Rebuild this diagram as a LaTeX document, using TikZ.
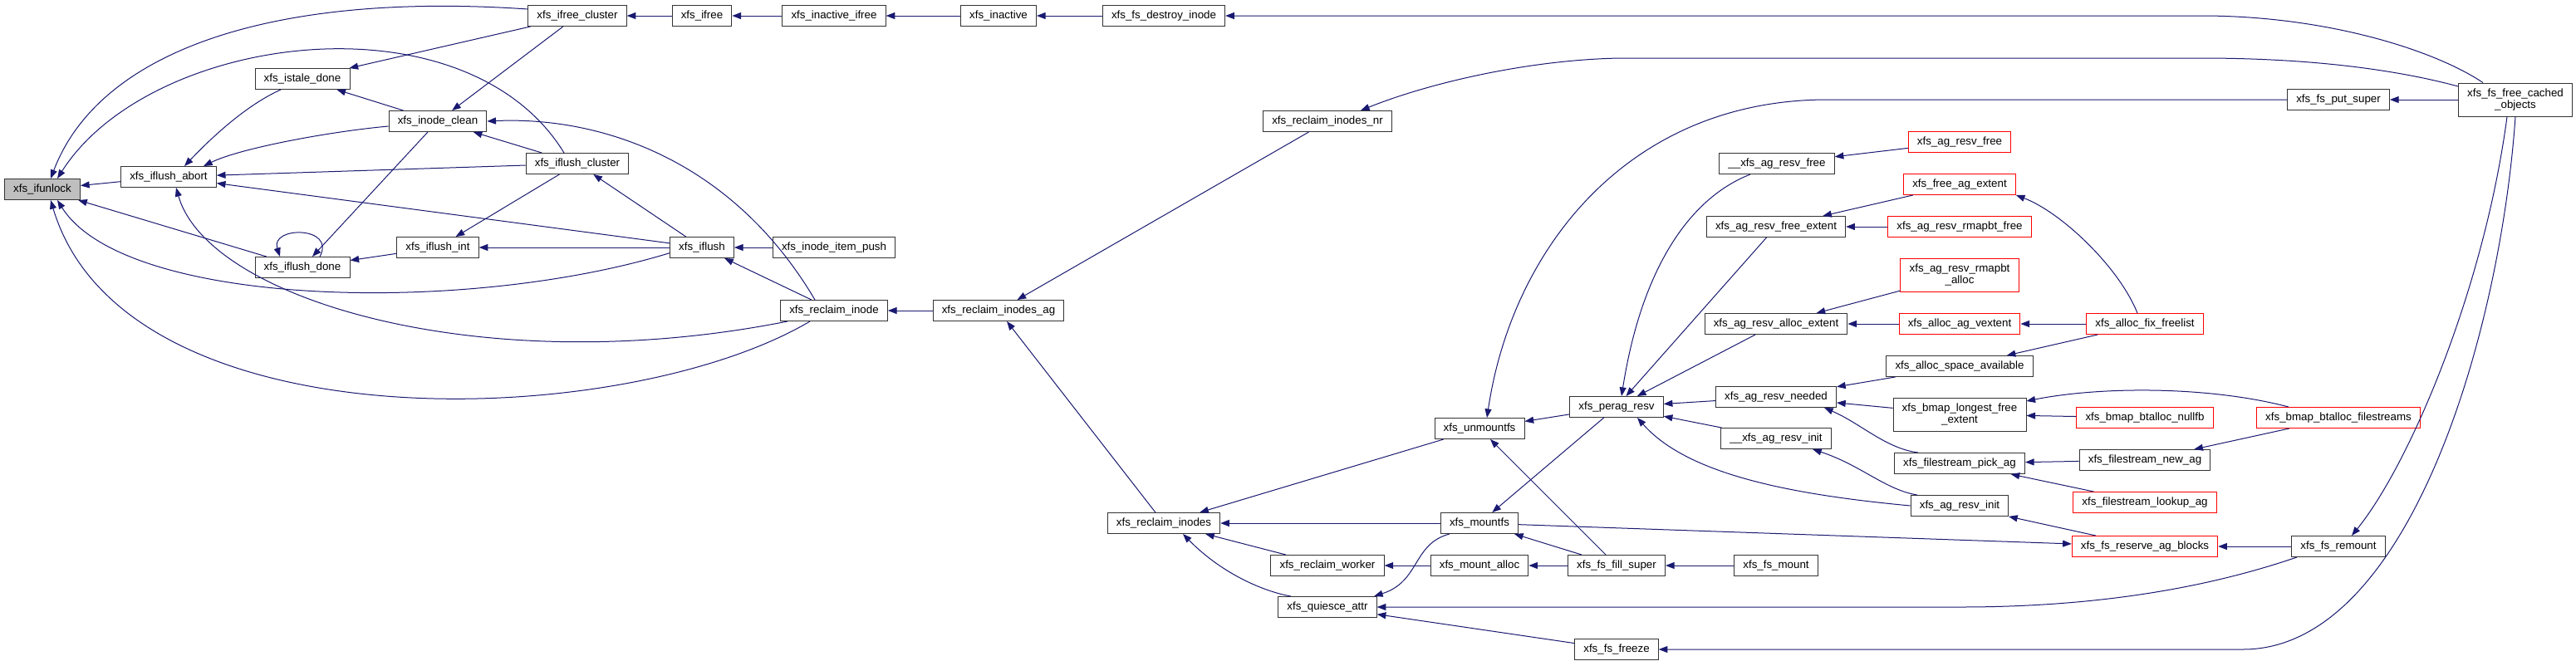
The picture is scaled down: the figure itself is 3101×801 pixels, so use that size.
\documentclass[tikz,border=0pt]{standalone}
\usepackage{fontspec}
\setmainfont{Liberation Sans}
\usetikzlibrary{arrows.meta}
\definecolor{edgeblue}{HTML}{191970}
\definecolor{rootgray}{HTML}{BFBFBF}

\begin{document}
\begin{tikzpicture}[
  x=0.75pt, y=-0.75pt,
  box/.style={rectangle, draw=black!80, fill=white, line width=0.7pt, inner xsep=8pt, inner ysep=2pt, minimum height=18.75pt, align=center, font=\fontsize{10}{11}\selectfont},
  rootbox/.style={box, fill=rootgray},
  redbox/.style={box, draw=red},
  line/.style={{Triangle[length=8pt,width=6pt]}-, draw=edgeblue, line width=0.75pt}
]
\useasboundingbox (0,0) rectangle (3101,801);

\node[rootbox] (ifunlock) at (51,228) {xfs\_ifunlock};
\node[box] (iflushabort) at (203,213) {xfs\_iflush\_abort};
\node[box] (istaledone) at (364,95) {xfs\_istale\_done};
\node[box] (iflushdone) at (364,322) {xfs\_iflush\_done};
\node[box] (inodeclean) at (527,146) {xfs\_inode\_clean};
\node[box] (iflushint) at (527,298) {xfs\_iflush\_int};
\node[box] (ifreecluster) at (695,19) {xfs\_ifree\_cluster};
\node[box] (iflushcluster) at (695,197) {xfs\_iflush\_cluster};
\node[box] (ifree) at (845,19) {xfs\_ifree};
\node[box] (iflush) at (845,298) {xfs\_iflush};
\node[box] (inactiveifree) at (1004,19) {xfs\_inactive\_ifree};
\node[box] (itempush) at (1004,298) {xfs\_inode\_item\_push};
\node[box] (reclaiminode) at (1004,374) {xfs\_reclaim\_inode};
\node[box] (inactive) at (1202,19) {xfs\_inactive};
\node[box] (reclaimag) at (1202,374) {xfs\_reclaim\_inodes\_ag};
\node[box] (destroyinode) at (1401,19) {xfs\_fs\_destroy\_inode};
\node[box] (reclaiminodes) at (1401,630) {xfs\_reclaim\_inodes};
\node[box] (reclaimnr) at (1598,146) {xfs\_reclaim\_inodes\_nr};
\node[box] (reclaimworker) at (1598,681) {xfs\_reclaim\_worker};
\node[box] (quiesce) at (1598,731) {xfs\_quiesce\_attr};
\node[box] (unmountfs) at (1781,516) {xfs\_unmountfs};
\node[box] (mountfs) at (1781,630) {xfs\_mountfs};
\node[box] (mountalloc) at (1781,681) {xfs\_mount\_alloc};
\node[box] (peragresv) at (1946,490) {xfs\_perag\_resv};
\node[box] (fillsuper) at (1946,681) {xfs\_fs\_fill\_super};
\node[box] (fsfreeze) at (1946,782) {xfs\_fs\_freeze};
\node[box] (resvfreeint) at (2139,197) {\_\_xfs\_ag\_resv\_free};
\node[box] (resvfreeext) at (2138,273) {xfs\_ag\_resv\_free\_extent};
\node[box] (resvallocext) at (2138,390) {xfs\_ag\_resv\_alloc\_extent};
\node[box] (resvneeded) at (2138,478) {xfs\_ag\_resv\_needed};
\node[box] (resvinitint) at (2138,528) {\_\_xfs\_ag\_resv\_init};
\node[box] (fsmount) at (2138,681) {xfs\_fs\_mount};
\node[redbox] (resvfree) at (2359,171) {xfs\_ag\_resv\_free};
\node[redbox] (freeagext) at (2359,222) {xfs\_free\_ag\_extent};
\node[redbox] (rmapbtfree) at (2359,273) {xfs\_ag\_resv\_rmapbt\_free};
\node[redbox, minimum height=30pt] (rmapbtalloc) at (2359,331) {xfs\_ag\_resv\_rmapbt\\\_alloc};
\node[redbox] (allocvextent) at (2359,390) {xfs\_alloc\_ag\_vextent};
\node[box] (spaceavail) at (2359,441) {xfs\_alloc\_space\_available};
\node[box, minimum height=30pt] (longestfree) at (2359,499) {xfs\_bmap\_longest\_free\\\_extent};
\node[box] (pickag) at (2359,558) {xfs\_filestream\_pick\_ag};
\node[box] (resvinit) at (2359,609) {xfs\_ag\_resv\_init};
\node[redbox] (fixfreelist) at (2582,390) {xfs\_alloc\_fix\_freelist};
\node[redbox] (nullfb) at (2582,503) {xfs\_bmap\_btalloc\_nullfb};
\node[box] (newag) at (2582,554) {xfs\_filestream\_new\_ag};
\node[redbox] (lookupag) at (2582,605) {xfs\_filestream\_lookup\_ag};
\node[redbox] (reserveblocks) at (2582,658) {xfs\_fs\_reserve\_ag\_blocks};
\node[box] (putsuper) at (2815,120) {xfs\_fs\_put\_super};
\node[redbox] (filestreams) at (2815,503) {xfs\_bmap\_btalloc\_filestreams};
\node[box] (remount) at (2815,658) {xfs\_fs\_remount};
\node[box, minimum height=30pt] (freecached) at (3028,120) {xfs\_fs\_free\_cached\\\_objects};

\draw[line] (ifunlock) -- (iflushabort);
\draw[line] ([xshift=7.5pt]ifunlock.north) .. controls (120,60) and (330,-10) .. ([yshift=6pt]ifreecluster.west);
\draw[line] ([xshift=13.5pt]ifunlock.north) .. controls (180,40) and (560,-10) .. ([xshift=-12pt]iflushcluster.north);
\draw[line] (ifunlock) -- (iflushdone);
\draw[line] ([xshift=13.5pt]ifunlock.south) .. controls (150,370) and (560,380) .. ([yshift=-5pt]iflush.west);
\draw[line] ([xshift=7.5pt]ifunlock.south) .. controls (150,540) and (750,520) .. ([xshift=-21.75pt]reclaiminode.south);
\draw[line] ([xshift=14.25pt]iflushabort.north) .. controls (260,160) and (300,125) .. ([xshift=-19.5pt]istaledone.south);
\draw[line] ([xshift=31.5pt]iflushabort.north) .. controls (290,178) and (400,158) .. ([yshift=-4.5pt]inodeclean.west);
\draw[line] (iflushabort) -- (iflushcluster);
\draw[line] (iflushabort) -- (iflush);
\draw[line] ([xshift=6.75pt]iflushabort.south) .. controls (250,360) and (580,460) .. ([xshift=-42pt]reclaiminode.south);
\draw[line] (istaledone) -- (ifreecluster);
\draw[line] (istaledone) -- (inodeclean);
\draw[line] (inodeclean) -- (ifreecluster);
\draw[line] (inodeclean) -- (iflushcluster);
\draw[line] (inodeclean.east) .. controls (720,140) and (880,190) .. ([xshift=-17.25pt]reclaiminode.north);
\draw[line] ([xshift=-20.25pt]iflushdone.north) .. controls (325,272) and (405,272) .. ([xshift=15.75pt]iflushdone.north);
\draw[line] (iflushdone) -- (inodeclean);
\draw[line] (iflushdone) -- (iflushint);
\draw[line] (iflushint) -- (iflushcluster);
\draw[line] (iflushint) -- (iflush);
\draw[line] (iflushcluster) -- (iflush);
\draw[line] (ifreecluster) -- (ifree);
\draw[line] (ifree) -- (inactiveifree);
\draw[line] (inactiveifree) -- (inactive);
\draw[line] (inactive) -- (destroyinode);
\draw[line] (destroyinode) -- (2650,19) .. controls (2800,19) and (2930,60) .. ([xshift=-29.25pt]freecached.north);
\draw[line] (iflush) -- (itempush);
\draw[line] (iflush) -- (reclaiminode);
\draw[line] (reclaiminode) -- (reclaimag);
\draw[line] (reclaimag) -- (reclaimnr);
\draw[line] (reclaimag) -- (reclaiminodes);
\draw[line] ([xshift=30pt]reclaimnr.north) .. controls (1720,100) and (1840,72) .. (1950,70) -- (2650,70) .. controls (2800,70) and (2900,88) .. ([yshift=12pt]freecached.west);
\draw[line] (reclaiminodes) -- (unmountfs);
\draw[line] (reclaiminodes) -- (mountfs);
\draw[line] (reclaiminodes) -- (reclaimworker);
\draw[line] ([xshift=17.25pt]reclaiminodes.south) .. controls (1470,690) and (1520,712) .. ([xshift=-33pt]quiesce.north);
\draw[line] (reclaimworker) -- (mountalloc);
\draw[line] (mountalloc) -- (fillsuper);
\draw[line] ([xshift=42pt]quiesce.north) .. controls (1710,700) and (1700,655) .. ([xshift=-27pt]mountfs.south);
\draw[line] (quiesce.east) -- (2360,731) .. controls (2550,731) and (2680,700) .. ([xshift=-37.5pt]remount.south);
\draw[line] (quiesce) -- (fsfreeze);
\draw[line] (mountfs) -- (fillsuper);
\draw[line] (unmountfs) -- (fillsuper);
\draw[line] (unmountfs) -- (peragresv);
\draw[line] ([xshift=6.75pt]unmountfs.north) .. controls (1820,300) and (1960,120) .. (2200,120) -- (putsuper.west);
\draw[line] (mountfs) -- (peragresv);
\draw[line] ([xshift=4.5pt]peragresv.north) .. controls (1975,330) and (2030,240) .. ([xshift=-24pt]resvfreeint.south);
\draw[line] (peragresv) -- (resvfreeext);
\draw[line] (peragresv) -- (resvallocext);
\draw[line] (peragresv) -- (resvneeded);
\draw[line] (peragresv) -- (resvinitint);
\draw[line] ([xshift=18.75pt]peragresv.south) .. controls (2030,570) and (2150,595) .. (resvinit.west);
\draw[line] (reserveblocks) -- (mountfs);
\draw[line] (fillsuper) -- (fsmount);
\draw[line] (resvfreeint) -- (resvfree);
\draw[line] (resvfreeext) -- (freeagext);
\draw[line] (resvfreeext) -- (rmapbtfree);
\draw[line] (resvallocext) -- (rmapbtalloc);
\draw[line] (resvallocext) -- (allocvextent);
\draw[line] (allocvextent) -- (fixfreelist);
\draw[line] (freeagext.south east) .. controls (2480,255) and (2550,320) .. ([xshift=-6.75pt]fixfreelist.north);
\draw[line] (spaceavail) -- (fixfreelist);
\draw[line] (resvneeded) -- (spaceavail);
\draw[line] (resvneeded) -- (longestfree);
\draw[line] ([xshift=43.5pt]resvneeded.south) .. controls (2240,510) and (2270,540) .. ([xshift=-37.5pt]pickag.north);
\draw[line] ([xshift=33pt]resvinitint.south) .. controls (2240,560) and (2270,590) .. ([xshift=-38.25pt]resvinit.north);
\draw[line] ([yshift=12pt]longestfree.east) .. controls (2530,465) and (2660,465) .. ([xshift=-45pt]filestreams.north);
\draw[line] (longestfree) -- (nullfb);
\draw[line] (newag) -- (filestreams);
\draw[line] (pickag) -- (newag);
\draw[line] (pickag) -- (lookupag);
\draw[line] (resvinit) -- (reserveblocks);
\draw[line] (reserveblocks) -- (remount);
\draw[line] ([xshift=12pt]remount.north) .. controls (2900,560) and (2990,350) .. ([xshift=-7.5pt]freecached.south);
\draw[line] (fsfreeze.east) -- (2700,782) .. controls (2900,782) and (3010,400) .. (freecached.south);
\draw[line] (putsuper) -- (freecached);
\end{tikzpicture}
\end{document}
